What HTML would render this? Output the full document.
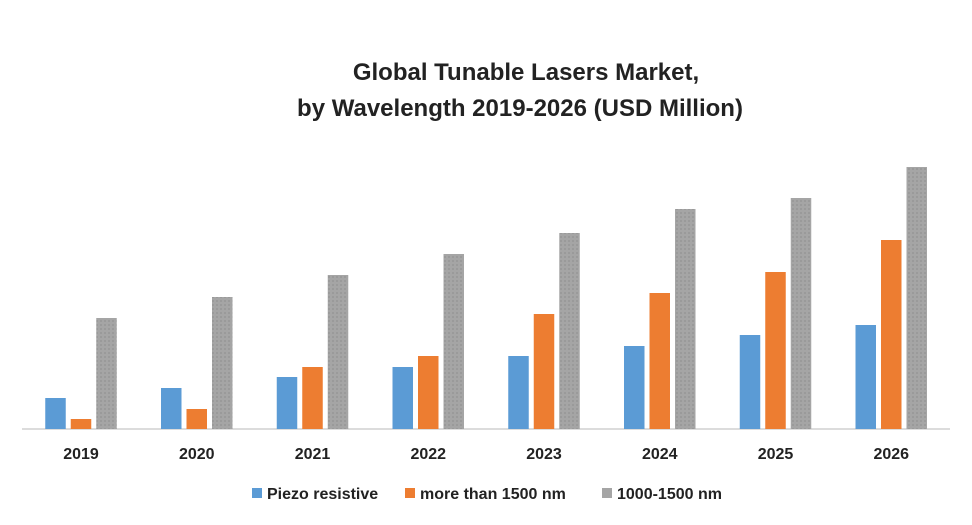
<!DOCTYPE html>
<html><head><meta charset="utf-8"><style>
body{margin:0;background:#fff;}
svg{display:block;font-family:"Liberation Sans",Arial,sans-serif;}
</style></head><body>
<svg id="chart" width="972" height="525">
<defs><pattern id="gp" width="4" height="4" patternUnits="userSpaceOnUse"><rect width="4" height="4" fill="#a5a5a5"/><rect width="2" height="2" fill="#9a9a9a"/></pattern></defs>
<text x="526" y="80" text-anchor="middle" font-size="24" font-weight="bold" fill="#222">Global Tunable Lasers Market,</text>
<text x="520" y="116" text-anchor="middle" font-size="24" font-weight="bold" fill="#222">by Wavelength 2019-2026 (USD Million)</text>
<line x1="22" y1="429" x2="950" y2="429" stroke="#d0d0d0" stroke-width="1.5"/>
<g id="bars"></g><g id="labels"></g>
<g>
<rect x="252" y="488" width="10" height="10" fill="#5b9bd5"/>
<text x="267" y="499" font-size="16" font-weight="bold" fill="#222">Piezo resistive</text>
<rect x="405" y="488" width="10" height="10" fill="#ed7d31"/>
<text x="420" y="499" font-size="16" font-weight="bold" fill="#222">more than 1500 nm</text>
<rect x="602" y="488" width="10" height="10" fill="#a5a5a5"/>
<text x="617" y="499" font-size="16" font-weight="bold" fill="#222">1000-1500 nm</text>
</g>
</svg>
<script>
const categories=["2019","2020","2021","2022","2023","2024","2025","2026"];
const piezo=[31,41,52,62,73,83,94,104];
const over1500=[10,20,62,73,115,136,157,189];
const mid=[111,132,154,175,196,220,231,262];
const series=[{name:"piezo",vals:piezo,fill:"#5b9bd5"},{name:"over1500",vals:over1500,fill:"#ed7d31"},{name:"1000-1500",vals:mid,fill:"url(#gp)"}];
const base=429, x0=81, step=115.75, bw=20.5, off=25.5, scale=1;
const y=v=>base-v*scale;
const NS="http://www.w3.org/2000/svg";
const bars=document.getElementById('bars'), labels=document.getElementById('labels');
categories.forEach((c,i)=>{
 const cx=x0+i*step;
 series.forEach((s,j)=>{
  const r=document.createElementNS(NS,'rect');
  r.setAttribute('x',cx+(j-1)*off-bw/2);
  r.setAttribute('y',y(s.vals[i]));
  r.setAttribute('width',bw);
  r.setAttribute('height',base-y(s.vals[i]));
  r.setAttribute('fill',s.fill);
  
  
  bars.appendChild(r);
 });
 const t=document.createElementNS(NS,'text');
 t.setAttribute('x',cx);t.setAttribute('y',459);
 t.setAttribute('text-anchor','middle');t.setAttribute('font-size','16');t.setAttribute('font-weight','bold');t.setAttribute('fill','#222');
 t.textContent=c;
 
 
 labels.appendChild(t);
});
</script>
</body></html>
